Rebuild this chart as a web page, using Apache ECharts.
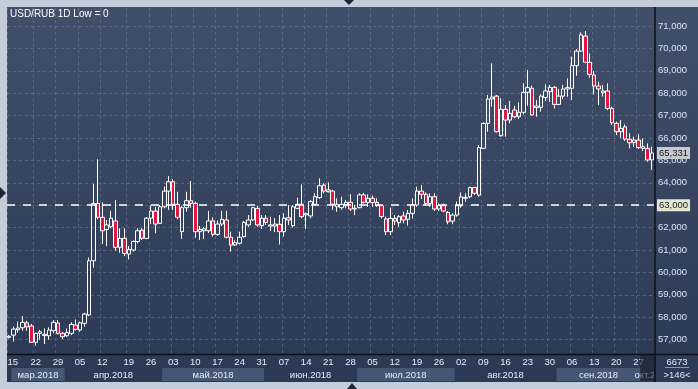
<!DOCTYPE html>
<html><head><meta charset="utf-8">
<script src="https://cdn.jsdelivr.net/npm/echarts@6/dist/echarts.min.js"></script>
<style>
html,body{margin:0;padding:0;background:#c3ccd9;overflow:hidden;}
#panel{position:absolute;left:7px;top:7px;width:691px;height:375px;background:linear-gradient(#424f6b,#2c3954);}
#chart{position:absolute;left:0;top:0;width:698px;height:389px;}
</style></head><body>
<div id="panel"></div><div id="chart"></div>
<script>
// ---- data (USD/RUB daily, 146 bars) ----
const opens = [57.10,57.20,57.44,57.53,57.75,57.61,56.88,57.28,57.18,57.17,57.40,57.74,57.28,57.17,57.28,57.65,57.43,57.73,58.10,60.52,
63.08,62.46,61.92,62.04,62.30,61.12,61.52,60.82,61.00,61.38,61.89,61.52,62.42,62.74,62.19,62.93,63.63,64.05,63.04,61.82,
62.89,63.20,63.08,61.82,61.86,61.86,62.30,61.70,62.16,62.34,61.57,61.22,61.30,61.60,62.12,62.34,62.86,62.09,62.42,62.07,
62.07,62.15,61.82,62.44,62.09,62.86,63.04,62.57,62.52,63.04,63.34,63.90,63.60,63.63,62.93,62.89,63.01,63.13,62.83,62.89,
63.46,63.12,63.31,63.13,62.98,62.39,61.82,62.41,62.22,62.52,62.37,62.64,63.01,63.63,63.49,63.08,63.38,62.83,62.98,62.68,
62.29,62.56,62.98,63.31,63.38,63.79,63.45,65.54,66.65,67.74,67.87,66.10,67.28,66.80,67.25,66.95,67.15,68.04,68.22,67.36,
67.37,67.81,68.07,68.26,67.50,67.87,68.19,68.22,69.23,69.88,70.55,69.38,68.81,68.32,68.02,68.10,67.32,66.65,66.28,66.50,
65.94,65.80,65.91,65.54,65.54,65.02];
const closes = [57.15,57.47,57.52,57.77,57.57,56.88,57.28,57.35,57.24,57.43,57.77,57.28,57.13,57.32,57.68,57.46,57.75,58.14,60.52,63.08,
62.46,61.86,62.12,62.42,61.12,61.52,60.85,61.03,61.38,61.86,61.52,62.42,62.74,62.16,62.93,63.63,64.05,63.04,62.46,62.89,
63.20,63.08,61.82,61.92,61.95,62.30,61.70,62.16,62.37,61.57,61.22,61.33,61.57,62.23,62.34,62.89,62.12,62.42,62.23,62.12,
62.16,61.82,62.42,62.34,62.93,63.04,62.49,62.62,63.16,63.38,63.87,63.63,63.68,63.04,63.04,63.04,63.13,62.83,62.86,63.46,
63.13,63.31,63.12,62.98,62.49,61.82,62.41,62.29,62.49,62.34,62.64,63.01,63.63,63.49,63.08,63.38,62.83,62.98,62.74,62.26,
62.56,62.98,63.37,63.35,63.79,63.53,65.57,66.65,67.74,67.83,66.28,67.28,66.80,67.10,66.95,67.15,68.04,68.25,67.03,67.43,
67.87,68.10,68.26,67.50,67.87,68.19,68.25,69.23,69.88,70.60,69.38,68.84,68.32,68.19,68.10,67.32,66.68,66.28,66.43,65.95,
65.79,65.91,65.57,65.61,65.02,65.331];
const lows = [57.05,56.91,57.31,57.40,57.40,56.85,56.73,57.00,56.80,57.00,57.28,57.23,57.03,57.13,57.20,57.40,57.35,57.58,58.05,60.21,
62.37,61.27,61.18,61.97,60.97,60.88,60.73,60.58,60.93,61.30,61.45,61.48,62.16,61.75,62.16,62.86,62.79,62.79,62.37,61.50,
62.71,62.89,61.55,61.45,61.49,61.75,61.60,61.63,62.07,61.52,60.93,61.18,61.25,61.55,62.04,62.30,62.04,61.94,62.12,61.85,
61.80,61.25,61.60,62.12,62.00,62.82,62.42,61.94,62.41,62.98,63.28,63.53,63.57,62.79,62.71,62.79,62.86,62.74,62.56,62.86,
63.08,62.93,62.93,62.93,62.41,61.67,61.67,62.12,62.04,62.19,62.09,62.41,62.93,63.28,62.98,62.93,62.74,62.74,62.69,62.15,
62.15,62.49,62.89,63.16,63.31,63.46,63.38,65.51,66.28,67.40,66.25,66.06,66.06,66.65,66.88,66.85,67.06,67.44,67.00,66.95,
67.18,67.65,67.62,67.32,67.47,67.74,67.84,67.70,68.78,69.85,69.38,68.69,67.95,67.47,67.85,67.25,66.58,66.13,66.01,65.87,
65.54,65.61,65.51,65.42,64.94,64.57];
const highs = [57.20,57.58,57.80,58.05,57.84,57.70,57.31,57.44,57.50,57.55,57.87,57.87,57.35,57.50,57.77,57.90,57.80,58.20,60.67,63.95,
65.05,63.13,62.34,62.75,63.23,61.97,61.97,61.18,61.43,61.97,61.97,62.47,63.00,62.93,63.00,63.83,64.30,64.16,63.60,62.96,
63.60,64.08,63.16,62.07,62.04,62.75,62.46,62.31,62.75,62.75,61.82,61.43,61.82,62.30,62.56,62.93,62.98,62.56,62.56,62.49,
62.42,62.56,62.63,63.00,63.00,63.34,63.93,62.67,63.23,63.53,64.20,63.98,64.02,63.68,63.31,63.38,63.23,63.49,63.01,63.53,
63.55,63.49,63.43,63.31,63.01,62.49,62.89,62.56,62.56,62.71,62.79,63.31,63.83,63.90,63.57,63.53,63.53,63.08,63.08,62.74,
62.64,63.16,63.57,63.53,63.83,63.83,65.69,66.70,67.92,69.33,67.92,67.77,67.47,67.65,67.43,67.59,68.44,69.04,68.34,67.70,
67.95,68.40,68.37,68.32,68.19,68.37,68.66,69.63,69.97,70.72,70.78,69.78,68.99,68.51,68.37,68.44,67.40,66.73,66.80,66.61,
66.21,66.06,66.17,65.98,65.76,65.61];

// x tick labels (day of month) and the bar index they sit on
const tickText = ['15','22','29','05','12','19','26','03','10','17','24','31','07','14','21','28','05','12','19','26','02','09','16','23','30','06','13','20','27'];
const tickPos  = [0,6,11,16,21,27,32,37,42,47,52,57,62,67,72,77,82,87,92,97,102,107,112,117,122,127,132,137,142];

// month row: name, first/last bar boundary, shaded band
const monthNames = ['мар.2018','апр.2018','май.2018','июн.2018','июл.2018','авг.2018','сен.2018','окт.2018'];
const monthStart = [0.5,12.5,34.5,57.5,78.5,100.5,123.5,142.5];
const monthEnd   = [12.5,34.5,57.5,78.5,100.5,123.5,142.5,148];
const monthBand  = [1,0,1,0,1,0,1,0];

const lastPrice = 65.331;
const refLevel = 63;
const yTickMin = 57, yTickMax = 71;

// ---- build ----
const categories = opens.map((_, i) => String(i));
const candles = opens.map((o, i) => [o, closes[i], lows[i], highs[i]]);
const months = monthNames.map((n, i) => [monthStart[i], monthEnd[i], monthBand[i]]);
const fmt = v => v.toFixed(3).replace('.', ',');
const FONT = '"Liberation Sans", Arial, sans-serif';
const gridLine = {show: true, lineStyle: {color: 'rgba(125,140,170,0.45)', type: [3, 3], width: 1}};

const chart = echarts.init(document.getElementById('chart'), null, {renderer: 'canvas'});
chart.setOption({
  backgroundColor: 'transparent',
  animation: false,
  grid: [
    {left: 7, right: 44, top: 8, bottom: 35},
    {left: 7, right: 44, top: 26, bottom: 49.4},
    {left: 7, right: 44, top: 368, height: 13}
  ],
  xAxis: [
    {type: 'category', gridIndex: 0, data: categories, boundaryGap: true,
      axisLine: {show: false}, axisTick: {show: false},
      axisLabel: {interval: i => tickPos.indexOf(i) >= 0, margin: 3, color: '#e6ecf6', fontSize: 9.5, fontFamily: FONT,
        formatter: (v, i) => { const k = tickPos.indexOf(i); return k === 0 ? '{l|' + tickText[k] + '}' : (k >= 0 ? tickText[k] : ''); },
        rich: {l: {padding: [0, 0, 0, 7], color: '#e6ecf6', fontSize: 9.5, fontFamily: FONT}}},
      splitLine: Object.assign({interval: i => tickPos.indexOf(i) >= 0}, gridLine)},
    {type: 'value', gridIndex: 1, min: 0, max: 1, show: false},
    {type: 'value', gridIndex: 2, min: -0.5, max: opens.length - 0.5, show: false}
  ],
  yAxis: [
    {type: 'value', gridIndex: 0, min: 56.358, max: 71.804, position: 'right', show: false},
    {type: 'value', gridIndex: 1, min: yTickMin, max: yTickMax, interval: 1, position: 'right',
      axisLine: {show: false}, axisTick: {show: false}, splitLine: gridLine,
      axisLabel: {margin: 4, color: '#d8e4f6', fontSize: 9.5, fontFamily: FONT, formatter: fmt}},
    {type: 'value', gridIndex: 2, min: 0, max: 1, show: false}
  ],
  series: [
    {type: 'candlestick', xAxisIndex: 0, yAxisIndex: 0, data: candles, barWidth: 4,
      itemStyle: {color: 'rgba(0,0,0,0)', color0: '#e2163f', borderColor: '#ffffff', borderColor0: '#ffffff', borderWidth: 1},
      markLine: {silent: true, symbol: ['none', 'none'], animation: false, z: 10,
        data: [
          {yAxis: refLevel, lineStyle: {color: '#ffffff', type: [8, 8], width: 1.5},
            label: {show: true, position: 'end', distance: 3, formatter: fmt(refLevel), backgroundColor: '#e6e6d0',
              color: '#141a26', fontSize: 9.5, fontFamily: FONT, padding: [1, 2, 1, 2]}},
          {yAxis: lastPrice, lineStyle: {color: 'rgba(0,0,0,0)', width: 1, type: 'solid'},
            label: {show: true, position: 'end', distance: 3, formatter: fmt(lastPrice), backgroundColor: '#c6c8cc',
              color: '#141a26', fontSize: 9.5, fontFamily: FONT, padding: [1, 2, 1, 2]}}
        ]}},
    {type: 'custom', xAxisIndex: 2, yAxisIndex: 2, data: months, silent: true,
      renderItem: function (params, api) {
        const s = api.value(0), e = api.value(1), band = api.value(2);
        const p0 = api.coord([s, 0]), p1 = api.coord([e, 1]);
        const cs = params.coordSys;
        const children = [];
        if (band) children.push({type: 'rect', shape: {x: p0[0], y: p1[1], width: p1[0] - p0[0], height: p0[1] - p1[1]},
          style: {fill: 'rgba(125,145,180,0.32)'}});
        children.push({type: 'text', style: {text: monthNames[params.dataIndex], x: (p0[0] + p1[0]) / 2, y: (p0[1] + p1[1]) / 2 + 0.5,
          textAlign: 'center', textVerticalAlign: 'middle', fill: '#e6ecf6', font: '9.5px ' + FONT}});
        return {type: 'group', children: children,
          clipPath: {type: 'rect', shape: {x: cs.x, y: cs.y, width: cs.width, height: cs.height}}};
      }}
  ],
  graphic: [
    {type: 'text', left: 10, top: 9, z: 10, style: {text: 'USD/RUB 1D Low = 0', fill: '#ffffff', font: '10px ' + FONT}},
    {type: 'rect', z: 10, shape: {x: 640, y: 355, width: 15, height: 26}, style: {fill: 'rgba(28,36,54,0.6)'}},
    {type: 'line', z: 10, shape: {x1: 7, y1: 354.5, x2: 698, y2: 354.5}, style: {stroke: '#0b0f18', lineWidth: 1.5}},
    {type: 'line', z: 10, shape: {x1: 655, y1: 7, x2: 655, y2: 382}, style: {stroke: '#0b0f18', lineWidth: 1.5}},
    {type: 'text', z: 10, style: {text: '6673', x: 677, y: 362, textAlign: 'center', textVerticalAlign: 'middle', fill: '#dfe7f5', font: '9.5px ' + FONT}},
    {type: 'line', z: 10, shape: {x1: 665, y1: 367.5, x2: 689, y2: 367.5}, style: {stroke: 'rgba(200,210,230,0.6)', lineWidth: 1}},
    {type: 'text', z: 10, style: {text: '>146<', x: 677, y: 375, textAlign: 'center', textVerticalAlign: 'middle', fill: '#dfe7f5', font: '9.5px ' + FONT}},
    {type: 'polygon', z: 10, shape: {points: [[344, 0], [354, 0], [349, 5]]}, style: {fill: '#1c2536'}},
    {type: 'polygon', z: 10, shape: {points: [[0, 187], [0, 199], [6, 193]]}, style: {fill: '#1c2536'}},
    {type: 'polygon', z: 10, shape: {points: [[347, 389], [357, 389], [352, 383]]}, style: {fill: '#1c2536'}}
  ]
});
</script></body></html>
